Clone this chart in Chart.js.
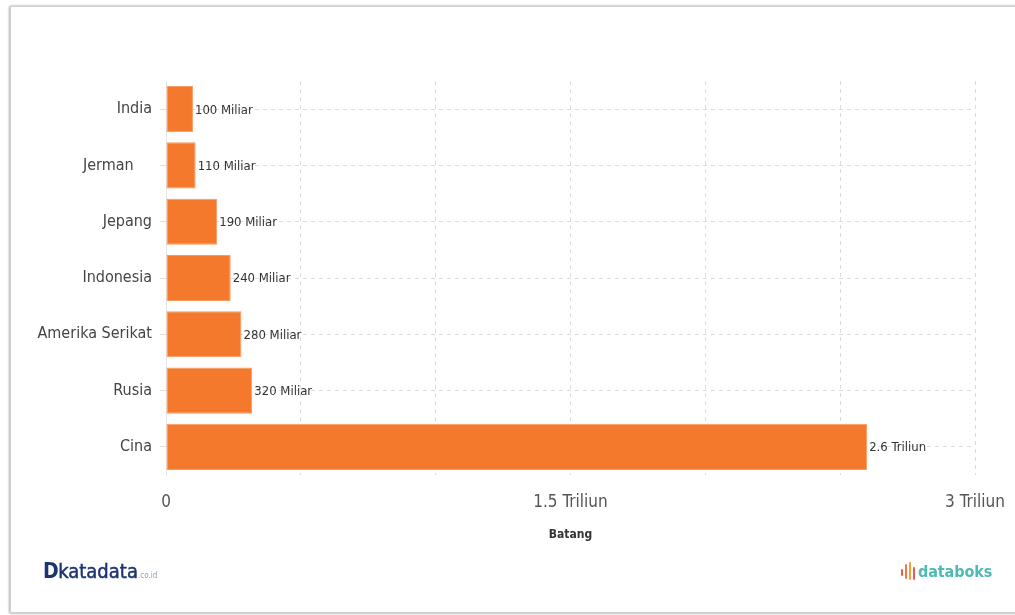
<!DOCTYPE html>
<html>
<head>
<meta charset="utf-8">
<script src="https://cdn.jsdelivr.net/npm/chart.js@4/dist/chart.umd.min.js"></script>
<style>
  html, body { margin: 0; padding: 0; background: #ffffff; }
  body { width: 1015px; height: 615px; position: relative; overflow: hidden; font-family: "DejaVu Sans Condensed", "DejaVu Sans", sans-serif; }
  #frame {
    position: absolute; left: 10px; top: 6px; width: 1030px; height: 605px;
    border: 1px solid #cfcfcf; box-shadow: -1px 0 2px #bdbdbd, 0 1px 2px #d0d0d0, 0 -1px 2px #e2e2e2;
    background: #fff;
  }
  #chart { position: absolute; left: 0; top: 0; }
  .brand-kd { position: absolute; left: 43px; top: 559px; color: #1d3470; font-family: "DejaVu Sans Condensed", "DejaVu Sans", sans-serif; }
  .brand-kd .d { font-weight: bold; font-size: 21px; letter-spacing: -0.5px; }
  .brand-kd .k { font-size: 20px; -webkit-text-stroke: 0.5px #1d3470; letter-spacing: 0px; }
  .brand-kd .c { font-size: 8px; color: #8aa2b8; }
  .brand-db { position: absolute; left: 900px; top: 561px; height: 22px; }
  .brand-db .bars { position: absolute; left: 0; top: 0; width: 18px; height: 22px; }
  .brand-db .bars span { position: absolute; width: 2px; border-radius: 1px; }
  .brand-db .t { position: absolute; left: 18px; top: 1px; font-family: "DejaVu Sans Condensed", "DejaVu Sans", sans-serif; font-size: 16px; font-weight: bold; color: #4dbab3; letter-spacing: -0.1px; }
</style>
</head>
<body>
<div id="frame"></div>
<canvas id="chart" width="1015" height="615"></canvas>
<div class="brand-kd"><span class="d">D</span><span class="k">katadata</span><span class="c">.co.id</span></div>
<div class="brand-db">
  <div class="bars">
    <span style="left:1px;top:8px;height:7px;background:#ef5a4c"></span>
    <span style="left:5px;top:3px;height:15px;background:#f07a3c"></span>
    <span style="left:9px;top:1px;height:18px;background:#f3a03a"></span>
    <span style="left:13px;top:6px;height:13px;background:#ef5a4c"></span>
  </div>
  <div class="t">databoks</div>
</div>
<script>
// Countries and values (in trillions)
const categories = ['India', 'Jerman    ', 'Jepang', 'Indonesia', 'Amerika Serikat', 'Rusia', 'Cina'];
const values = [0.10, 0.11, 0.19, 0.24, 0.28, 0.32, 2.6];
const xTickLabels = [0, 1.5, 3];
const axisTitle = 'Batang';

function fmtValue(v) {
  if (v < 1) return Math.round(v * 1000) + ' Miliar';
  return (Math.round(v * 10) / 10) + ' Triliun';
}
function fmtTick(v) {
  return v === 0 ? '0' : v + ' Triliun';
}

const FONT = '"DejaVu Sans Condensed", "DejaVu Sans", sans-serif';

// Value labels at the end of each bar
const valueLabels = {
  id: 'valueLabels',
  afterDatasetsDraw(chart) {
    const ctx = chart.ctx;
    const meta = chart.getDatasetMeta(0);
    ctx.save();
    ctx.font = '13px ' + FONT;
    ctx.fillStyle = '#333333';
    ctx.textAlign = 'left';
    ctx.textBaseline = 'middle';
    meta.data.forEach((bar, i) => {
      ctx.fillText(fmtValue(values[i]), bar.x + 2, bar.y + 1);
    });
    ctx.restore();
  }
};

new Chart(document.getElementById('chart'), {
  type: 'bar',
  data: {
    labels: categories,
    datasets: [{
      data: values,
      backgroundColor: '#f4792d',
      borderColor: '#f79a60',
      borderWidth: 1,
      borderSkipped: false,
      barPercentage: 0.82,
      categoryPercentage: 1
    }]
  },
  options: {
    indexAxis: 'y',
    responsive: false,
    animation: false,
    layout: { padding: { top: 81, left: 0, right: 40, bottom: 67 } },
    plugins: {
      legend: { display: false },
      tooltip: { enabled: false }
    },
    scales: {
      x: {
        min: 0,
        max: 3,
        afterFit(scale) {
          scale.height = 73;
          scale.paddingLeft = 0;
          scale.paddingRight = 0;
        },
        border: { display: false, dash: [4, 4] },
        grid: {
          color: '#dcdcdc',
          drawTicks: false
        },
        ticks: {
          stepSize: 0.5,
          autoSkip: false,
          maxRotation: 0,
          padding: 17,
          color: '#555555',
          font: { family: FONT, size: 17 },
          callback(v) { return xTickLabels.includes(v) ? fmtTick(v) : ''; }
        },
        title: {
          display: true,
          text: axisTitle,
          color: '#333333',
          font: { family: FONT, size: 12, weight: 'bold' },
          padding: { top: 0, bottom: 6 }
        }
      },
      y: {
        afterFit(scale) {
          scale.width = 166;
          scale.paddingTop = 0;
          scale.paddingBottom = 0;
        },
        border: { display: true, color: '#e6e6e6', dash: [4, 4] },
        grid: {
          offset: false,
          color: '#dcdcdc',
          tickLength: 6
        },
        ticks: {
          padding: 8,
          color: '#444444',
          font: { family: FONT, size: 16 }
        }
      }
    }
  },
  plugins: [valueLabels]
});
</script>
</body>
</html>
